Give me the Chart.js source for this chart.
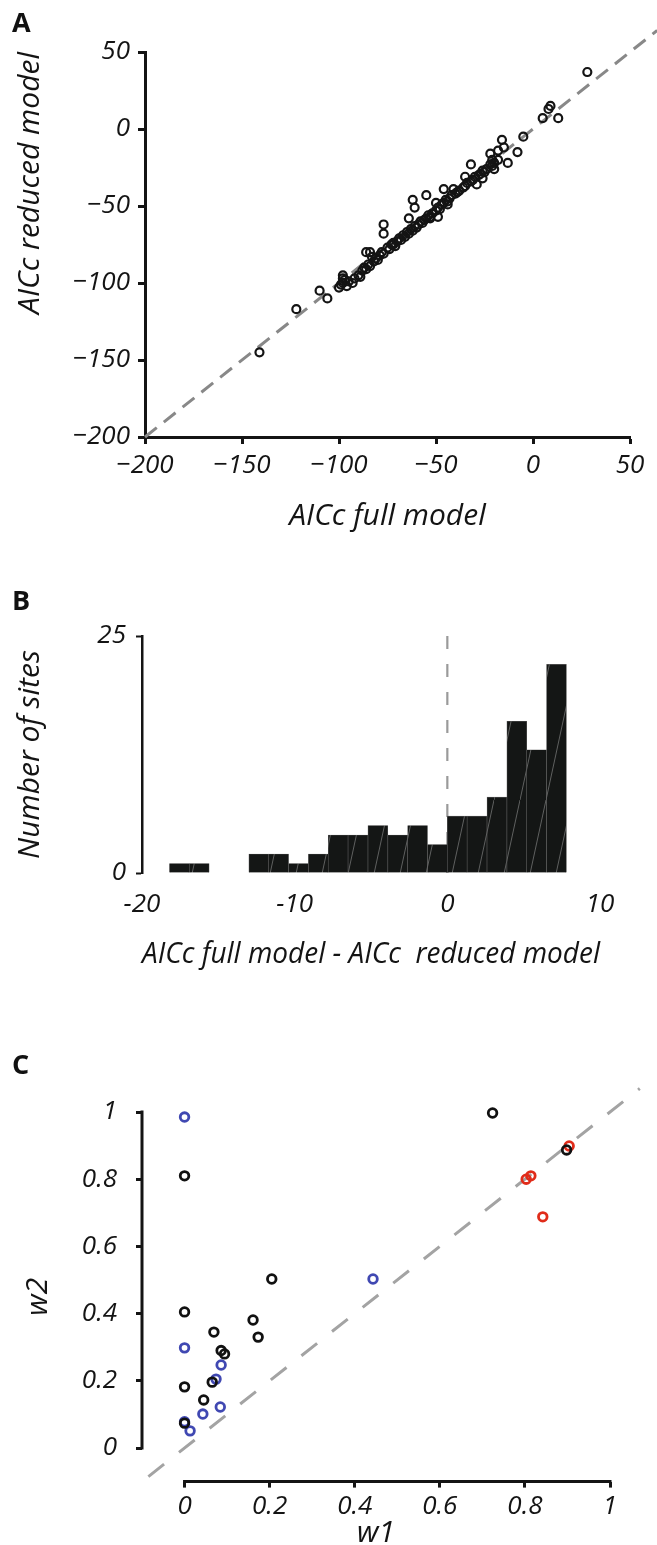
<!DOCTYPE html>
<html>
<head>
<meta charset="utf-8">
<script src="https://cdn.jsdelivr.net/npm/chart.js@4.4.1/dist/chart.umd.min.js"></script>
<style>
html, body { margin: 0; padding: 0; background: #fff; }
#page { position: relative; width: 657px; height: 1545px; overflow: hidden; }
.panel { position: absolute; left: 0; width: 657px; }
.panel canvas { display: block; }
.tag { position: absolute; left: 12px; font: 700 27px "Open Sans", sans-serif; color: #111; line-height: 1; }
</style>
</head>
<body>
<div id="page">
  <div class="panel" style="top:0;height:560px"><canvas id="chartA"></canvas></div>
  <div class="panel" style="top:560px;height:440px"><canvas id="chartB"></canvas></div>
  <div class="panel" style="top:1000px;height:555px"><canvas id="chartC"></canvas></div>
  <div class="tag" style="top:8px">A</div>
  <div class="tag" style="top:586px">B</div>
  <div class="tag" style="top:1050px">C</div>
</div>
<script>
// ---- panel A: AICc full vs reduced ----
const aFull = [28, 5, 8, 9, 13, -5, -16, -15, -18, -8, -13, -22, -21, -32, -20, -35, -26, -29, -46, -41,
  -55, -50, -44, -62, -61, -64, -53, -49, -77, -77, -86, -98, -110, -106, -72, -141, -122, -84, -83, -98,
  -100, -99, -98, -97, -96, -95, -93, -92, -90, -89, -88, -87, -86, -85, -84, -82, -81, -80, -79, -78,
  -77, -75, -74, -73, -72, -71, -70, -69, -68, -67, -66, -65, -64, -63, -62, -61, -60, -59, -58, -57,
  -56, -55, -54, -53, -52, -50, -49, -48, -47, -46, -45, -44, -43, -42, -40, -39, -38, -36, -35, -34,
  -32, -31, -30, -28, -27, -26, -25, -24, -22, -21, -20, -18];
const aReduced = [37, 7, 13, 15, 7, -5, -7, -12, -14, -15, -22, -16, -20, -23, -26, -31, -32, -36, -39, -39,
  -43, -48, -49, -46, -51, -58, -58, -57, -62, -68, -80, -95, -105, -110, -75, -145, -117, -80, -83, -97,
  -103, -101, -100, -98, -102, -99, -100, -97, -95, -96, -92, -90, -91, -88, -89, -86, -84, -85, -82, -80,
  -81, -77, -78, -75, -74, -76, -73, -71, -72, -69, -70, -67, -68, -65, -66, -63, -64, -62, -60, -61,
  -59, -58, -56, -57, -55, -53, -51, -52, -49, -48, -46, -47, -45, -43, -42, -41, -40, -38, -37, -35,
  -34, -33, -31, -30, -29, -27, -28, -26, -23, -24, -22, -20];
const aTicks = [-200, -150, -100, -50, 0, 50];
const aDiag = [-200, 64];

// ---- panel B: histogram of AICc differences ----
const bBinCenters = [-17.55, -16.25, -14.95, -13.65, -12.35, -11.05, -9.75, -8.45, -7.15, -5.85,
  -4.55, -3.25, -1.95, -0.65, 0.65, 1.95, 3.25, 4.55, 5.85, 7.15];
const bCounts = [1, 1, 0, 0, 2, 2, 1, 2, 4, 4, 5, 4, 5, 3, 6, 6, 8, 16, 13, 22];
const bYTicks = [0, 25];
const bXTicks = [-20, -10, 0, 10];
const bZeroLine = [0, 25.6];

// ---- panel C: w1 vs w2 ----
const cBlackW1 = [0, 0.205, 0, 0.161, 0.173, 0.069, 0.086, 0.094, 0.065, 0, 0.045, 0, 0.724, 0.898];
const cBlackW2 = [0.81, 0.503, 0.405, 0.381, 0.33, 0.345, 0.29, 0.28, 0.196, 0.182, 0.143, 0.074, 0.997, 0.887];
const cBlueW1 = [0, 0.443, 0, 0.086, 0.074, 0.084, 0.043, 0, 0.013];
const cBlueW2 = [0.985, 0.503, 0.298, 0.247, 0.205, 0.122, 0.101, 0.078, 0.051];
const cRedW1 = [0.904, 0.803, 0.814, 0.842];
const cRedW2 = [0.899, 0.80, 0.81, 0.688];
const cTicks = [0, 0.2, 0.4, 0.6, 0.8, 1];
const cDiag = [-0.085, 1.07];

const INK = '#141414';
const FONT = '"Open Sans", "Noto Sans", sans-serif';
const tickFont = { family: FONT, size: 26, style: 'italic' };
const titleFont = { family: FONT, size: 30, style: 'italic' };
const minus = v => String(v).replace('-', '\u2212');
const pts = (xs, ys) => xs.map((x, i) => ({ x, y: ys[i] }));
const fixTicks = list => s => { s.ticks = list.map(v => ({ value: v })); };
const dec = v => String(+(+v).toFixed(1));

Chart.defaults.animation = false;
Chart.defaults.color = INK;
Chart.defaults.plugins.legend.display = false;
Chart.defaults.plugins.tooltip.enabled = false;

function hatch() {
  const c = document.createElement('canvas');
  c.width = 26; c.height = 120;
  const g = c.getContext('2d');
  g.fillStyle = '#141615';
  g.fillRect(0, 0, 26, 120);
  g.strokeStyle = 'rgba(255,255,255,0.32)';
  g.lineWidth = 1;
  g.beginPath(); g.moveTo(0, 120); g.lineTo(26, 0); g.stroke();
  return g.createPattern(c, 'repeat');
}

// A
new Chart(document.getElementById('chartA'), {
  type: 'scatter',
  data: {
    datasets: [
      {
        data: pts(aFull, aReduced),
        pointRadius: 4, pointBorderWidth: 2.2,
        pointBorderColor: INK, pointBackgroundColor: 'rgba(0,0,0,0)',
        clip: false,
      },
      {
        type: 'line',
        data: pts(aDiag, aDiag),
        borderColor: '#888888', borderWidth: 3, borderDash: [15, 9],
        pointRadius: 0, clip: false,
      },
    ]
  },
  options: {
    responsive: true, maintainAspectRatio: false,
    layout: { padding: { top: 52, right: 27, left: 0, bottom: 0 } },
    scales: {
      x: {
        type: 'linear', min: -200, max: 50,
        afterBuildTicks: fixTicks(aTicks),
        afterFit: s => { s.height = 123; },
        grid: { drawOnChartArea: false, tickLength: 7, tickWidth: 3, tickColor: INK },
        border: { color: INK, width: 3 },
        ticks: { font: tickFont, color: INK, padding: 6, maxRotation: 0, callback: minus },
        title: { display: true, text: 'AICc full model', font: titleFont, color: INK, padding: { top: 6, bottom: 26 } },
      },
      y: {
        type: 'linear', min: -200, max: 50,
        afterBuildTicks: fixTicks(aTicks),
        afterFit: s => { s.width = 145; },
        grid: { drawOnChartArea: false, tickLength: 7, tickWidth: 3, tickColor: INK },
        border: { color: INK, width: 3 },
        ticks: { font: tickFont, color: INK, padding: 8, callback: minus },
        title: { display: true, text: 'AICc reduced model', font: titleFont, color: INK, align: 'end', padding: { top: 12, bottom: 0 } },
      }
    }
  }
});

// B
new Chart(document.getElementById('chartB'), {
  type: 'bar',
  data: {
    datasets: [
      {
        data: pts(bBinCenters, bCounts),
        backgroundColor: hatch(),
        borderColor: '#5a5a5a', borderWidth: 0.6,
        barPercentage: 1, categoryPercentage: 1,
      },
      {
        type: 'line',
        data: pts([0, 0], bZeroLine),
        borderColor: '#9a9a9a', borderWidth: 2.2, borderDash: [13, 15],
        pointRadius: 0, clip: false,
      },
    ]
  },
  options: {
    responsive: true, maintainAspectRatio: false,
    layout: { padding: { top: 76, right: 57, left: 0, bottom: 0 } },
    scales: {
      x: {
        type: 'linear', min: -20, max: 10, offset: false,
        afterBuildTicks: fixTicks(bXTicks),
        afterFit: s => { s.height = 127; },
        grid: { display: false, drawTicks: false },
        border: { display: false },
        ticks: { font: tickFont, color: INK, padding: 16, maxRotation: 0 },
        title: { display: true, text: 'AICc full model - AICc  reduced model', font: titleFont, color: INK, padding: { top: 4, bottom: 28 } },
      },
      y: {
        type: 'linear', min: 0, max: 25,
        afterBuildTicks: fixTicks(bYTicks),
        afterFit: s => { s.width = 142; },
        grid: { drawOnChartArea: false, tickLength: 6, tickWidth: 2, tickColor: INK },
        border: { color: INK, width: 2.5 },
        ticks: { font: tickFont, color: INK, padding: 10 },
        title: { display: true, text: 'Number of sites', font: titleFont, color: INK, padding: { top: 12, bottom: 0 } },
      }
    }
  }
});

// C: axis lines only over [0, 1]
const cAxes = {
  id: 'cAxes',
  afterDraw(chart) {
    const { ctx, chartArea, scales: { x, y } } = chart;
    ctx.save();
    ctx.strokeStyle = INK;
    ctx.lineWidth = 3;
    ctx.beginPath();
    ctx.moveTo(chartArea.left, y.getPixelForValue(1) - 1.5);
    ctx.lineTo(chartArea.left, y.getPixelForValue(0) + 1.5);
    ctx.moveTo(x.getPixelForValue(0) - 1.5, chartArea.bottom);
    ctx.lineTo(x.getPixelForValue(1) + 1.5, chartArea.bottom);
    ctx.stroke();
    ctx.restore();
  }
};

const cPoint = color => ({
  pointRadius: 4.3, pointBorderWidth: 2.8,
  pointBorderColor: color, pointBackgroundColor: 'rgba(0,0,0,0)',
  clip: false,
});

new Chart(document.getElementById('chartC'), {
  type: 'scatter',
  data: {
    datasets: [
      { data: pts(cBlackW1, cBlackW2), ...cPoint('#111111') },
      { data: pts(cBlueW1, cBlueW2), ...cPoint('#4048b2') },
      { data: pts(cRedW1, cRedW2), ...cPoint('#e02c1a') },
      {
        type: 'line',
        data: pts(cDiag, cDiag),
        borderColor: '#a3a3a3', borderWidth: 3, borderDash: [20, 19],
        pointRadius: 0, clip: false,
      },
    ]
  },
  options: {
    responsive: true, maintainAspectRatio: false,
    layout: { padding: { top: 112, right: 47, left: 0, bottom: 0 } },
    scales: {
      x: {
        type: 'linear', min: -0.1, max: 1,
        afterBuildTicks: fixTicks(cTicks),
        afterFit: s => { s.height = 73.4; },
        grid: { drawOnChartArea: false, tickLength: 6, tickWidth: 3, tickColor: INK },
        border: { display: false },
        ticks: { font: tickFont, color: INK, padding: 3, maxRotation: 0, callback: dec },
        title: { display: true, text: 'w1', font: titleFont, color: INK, padding: { top: 0, bottom: 4 } },
      },
      y: {
        type: 'linear', min: -0.1, max: 1,
        afterBuildTicks: fixTicks(cTicks),
        afterFit: s => { s.width = 142; },
        grid: { drawOnChartArea: false, tickLength: 6, tickWidth: 3, tickColor: INK },
        border: { display: false },
        ticks: { font: tickFont, color: INK, padding: 19, callback: dec },
        title: { display: true, text: 'w2', font: titleFont, color: INK, padding: { top: 20, bottom: 0 } },
      }
    }
  },
  plugins: [cAxes]
});
</script>
</body>
</html>
